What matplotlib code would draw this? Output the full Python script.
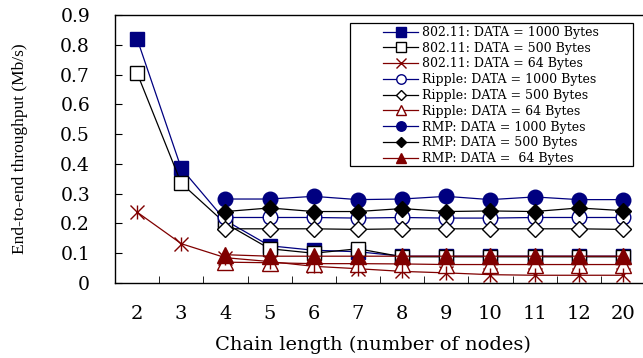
import matplotlib
matplotlib.use("Agg")
import matplotlib.pyplot as plt
from matplotlib.patches import Rectangle
import numpy as np

categories = ["2", "3", "4", "5", "6", "7", "8", "9", "10", "11", "12", "20"]

s80211_1000 = [0.82, 0.385, 0.21, 0.125, 0.11, 0.105, 0.09, 0.09, 0.09, 0.09, 0.09, 0.09]
s80211_500 = [0.705, 0.335, 0.20, 0.115, 0.10, 0.115, 0.088, 0.088, 0.088, 0.088, 0.088, 0.088]
s80211_64 = [0.238, 0.132, 0.085, 0.072, 0.056, 0.048, 0.039, 0.034, 0.028, 0.026, 0.026, 0.026]
ripple_1000 = [None, None, 0.22, 0.22, 0.22, 0.218, 0.22, 0.218, 0.218, 0.22, 0.22, 0.22]
ripple_500 = [None, None, 0.182, 0.182, 0.182, 0.18, 0.182, 0.182, 0.182, 0.182, 0.182, 0.18]
ripple_64 = [None, None, 0.07, 0.068, 0.065, 0.065, 0.064, 0.062, 0.062, 0.062, 0.062, 0.062]
rmp_1000 = [None, None, 0.282, 0.282, 0.291, 0.28, 0.282, 0.291, 0.28, 0.289, 0.28, 0.28]
rmp_500 = [None, None, 0.24, 0.252, 0.24, 0.24, 0.25, 0.24, 0.242, 0.24, 0.252, 0.243]
rmp_64 = [None, None, 0.095, 0.09, 0.09, 0.09, 0.09, 0.09, 0.09, 0.09, 0.09, 0.09]

labels = [
    "802.11: DATA = 1000 Bytes",
    "802.11: DATA = 500 Bytes",
    "802.11: DATA = 64 Bytes",
    "Ripple: DATA = 1000 Bytes",
    "Ripple: DATA = 500 Bytes",
    "Ripple: DATA = 64 Bytes",
    "RMP: DATA = 1000 Bytes",
    "RMP: DATA = 500 Bytes",
    "RMP: DATA =  64 Bytes",
]

NAVY = "#000080"
BLK = "#000000"
RED = "#800000"

styles = [
    dict(color=NAVY, marker="s", mfc=NAVY, mec=NAVY, ms=10.5),
    dict(color=BLK, marker="s", mfc="white", mec=BLK, ms=10.5),
    dict(color=RED, marker="x", mfc=RED, mec=RED, ms=10),
    dict(color=NAVY, marker="o", mfc="white", mec=NAVY, ms=10.5),
    dict(color=BLK, marker="D", mfc="white", mec=BLK, ms=8),
    dict(color=RED, marker="^", mfc="white", mec=RED, ms=11),
    dict(color=NAVY, marker="o", mfc=NAVY, mec=NAVY, ms=10.5),
    dict(color=BLK, marker="D", mfc=BLK, mec=BLK, ms=8),
    dict(color=RED, marker="^", mfc=RED, mec=RED, ms=11),
]

series = [s80211_1000, s80211_500, s80211_64, ripple_1000, ripple_500,
          ripple_64, rmp_1000, rmp_500, rmp_64]

W, H = 643, 358
fig = plt.figure(figsize=(W / 100, H / 100), dpi=100)
ax = fig.add_axes([115 / W, 1 - 283 / H, (645 - 115) / W, (283 - 15) / H])

x = np.arange(len(categories))
handles = []
for vals, st, lab in zip(series, styles, labels):
    xs = [xi for xi, v in zip(x, vals) if v is not None]
    ys = [v for v in vals if v is not None]
    h, = ax.plot(xs, ys, lw=0.9, label=lab, mew=1.0, **st)
    handles.append(h)

# vertical stroke to turn the x marker into an asterisk
ax.plot(x, s80211_64, lw=0, marker="|", color=RED, ms=10, mew=1.0)

ax.set_xlim(-0.5, len(categories) - 0.5)
ax.set_ylim(0, 0.9)
ax.set_xticks(x)
ax.set_xticklabels(categories, family="DejaVu Serif", fontsize=14)
ax.set_xticks(np.arange(0.5, len(categories) - 0.5, 1), minor=True)
ax.tick_params(axis="x", which="major", length=0, pad=16)
ax.tick_params(axis="x", which="minor", direction="in", length=5)
ax.set_yticks(np.arange(0, 0.91, 0.1))
ax.set_yticklabels(["0"] + ["%.1f" % v for v in np.arange(0.1, 0.91, 0.1)],
                   family="DejaVu Serif", fontsize=13.5)
ax.tick_params(axis="y", direction="in", length=5, pad=18)
for sp in ax.spines.values():
    sp.set_linewidth(1.0)

ax.set_xlabel("Chain length (number of nodes)", family="DejaVu Serif", fontsize=14)
ax.xaxis.set_label_coords(0.487, -0.197)
fig.text(20 / W, 1 - 149 / H, "End-to-end throughput (Mb/s)", rotation=90,
         va="center", ha="center", family="Liberation Serif", fontsize=12.5)

leg = ax.legend(handles=handles, loc="upper left",
                bbox_to_anchor=(383 / W, 1 - 26 / H), bbox_transform=fig.transFigure,
                prop={"family": "DejaVu Serif", "size": 9}, markerscale=0.65,
                frameon=False, labelspacing=0.22, handlelength=2.8,
                handletextpad=0.3, borderpad=0, borderaxespad=0)
fig.patches.append(Rectangle((350 / W, 1 - 166 / H), (633 - 350) / W, (166 - 23) / H,
                             transform=fig.transFigure, fill=False,
                             edgecolor="black", linewidth=0.9, zorder=5))

fig.savefig("out.png", dpi=100)
